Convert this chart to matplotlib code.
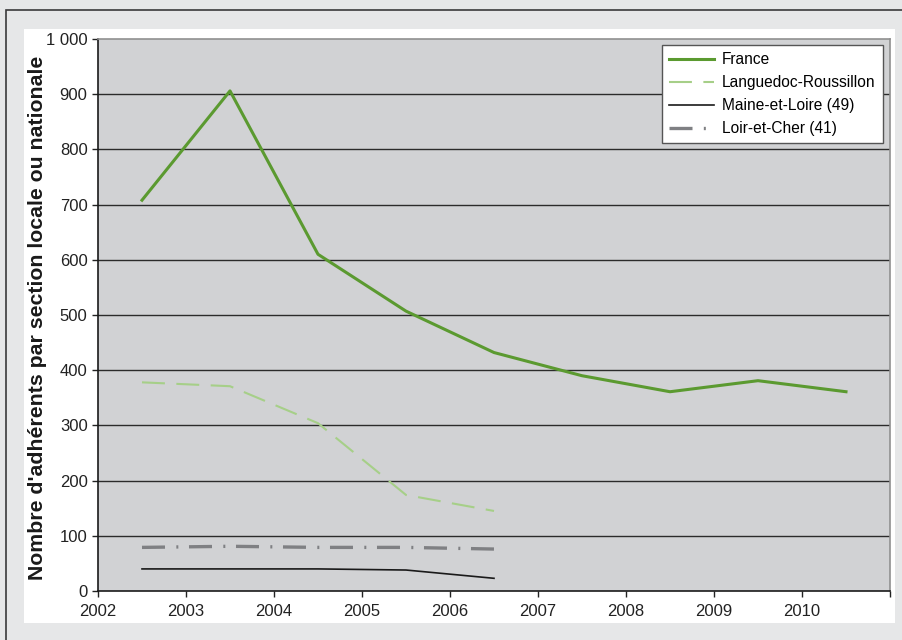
import numpy as np
import matplotlib
matplotlib.use("Agg")
import matplotlib.pyplot as plt
from matplotlib.patches import Rectangle

plt.rcParams['font.family'] = ['Liberation Sans', 'DejaVu Sans']

# data
years = np.array([2002, 2003, 2004, 2005, 2006, 2007, 2008, 2009, 2010])
france = [708, 906, 610, 507, 432, 390, 361, 381, 361]
languedoc = [378, 371, 304, 174, 145]
maine = [40, 40, 40, 38, 23]
loir = [79, 81, 79, 79, 76]
ylabel = "Nombre d'adhérents par section locale ou nationale"

fig = plt.figure(figsize=(9.02, 6.40), dpi=100)
fig.patch.set_facecolor('#e6e7e8')

# outer frame + white panel
fig.add_artist(Rectangle((6 / 902, -0.05), 1.0, 1 - 10 / 640 + 0.05,
                         transform=fig.transFigure, fill=False,
                         edgecolor='#3a3a3a', lw=1.2, zorder=-10))
fig.add_artist(Rectangle((24 / 902, 1 - 623 / 640), (895 - 24) / 902, (623 - 29) / 640,
                         transform=fig.transFigure, facecolor='white',
                         edgecolor='none', zorder=-9))

ax = fig.add_axes([98 / 902, 1 - 591 / 640, (890 - 98) / 902, (591 - 39) / 640])
ax.set_zorder(5)
ax.set_facecolor('#d1d2d4')

x = years + 0.5
n = len(languedoc)
ax.plot(x, france, color='#5b9a30', lw=2.2, label='France', zorder=5)
ax.plot(x[:n], languedoc, color='#a6cf88', lw=1.5, dashes=(11, 5.5), label='Languedoc-Roussillon', zorder=4)
ax.plot(x[:n], maine, color='#1a1a1a', lw=1.2, label='Maine-et-Loire (49)', zorder=4)
ax.plot(x[:n], loir, color='#7f8083', lw=2.4, dashes=(6.9, 3.4, 0.6, 3.2), label='Loir-et-Cher (41)', zorder=4)

ax.set_xlim(2002, 2011)
ax.set_ylim(0, 1000)
ax.set_xticks(np.arange(2002, 2012))
ax.set_xticklabels([str(y) for y in years] + [''])
ax.set_yticks(np.arange(0, 1001, 100))
ax.set_yticklabels(['0', '100', '200', '300', '400', '500', '600', '700', '800', '900', '1 000'])

for v in range(100, 1000, 100):
    ax.axhline(v, color='#2b2b2b', lw=1.0, zorder=1)

ax.tick_params(axis='both', direction='out', length=4.5, width=1, colors='#222222',
               labelsize=12, labelcolor='#222222', pad=3)
ax.tick_params(axis='x', pad=5)
for s in ['left', 'bottom']:
    ax.spines[s].set_color('#1a1a1a')
    ax.spines[s].set_linewidth(1.2)
for s in ['top', 'right']:
    ax.spines[s].set_color('#909090')
    ax.spines[s].set_linewidth(1.2)

ax.set_ylabel(ylabel, fontsize=15.3, fontweight='bold', color='#1a1a1a')
ax.yaxis.set_label_coords(-0.064, 0.495)

leg = ax.legend(loc='upper right', bbox_to_anchor=(0.991, 0.989), borderaxespad=0,
                fontsize=11.2, frameon=True, fancybox=False, handlelength=2.9,
                handletextpad=0.5, borderpad=0.45, labelspacing=0.52)
leg.get_frame().set_facecolor('white')
leg.get_frame().set_edgecolor('#555555')
leg.get_frame().set_linewidth(1.0)
leg.get_frame().set_alpha(1)

fig.savefig('out.png', dpi=100, facecolor=fig.get_facecolor())
